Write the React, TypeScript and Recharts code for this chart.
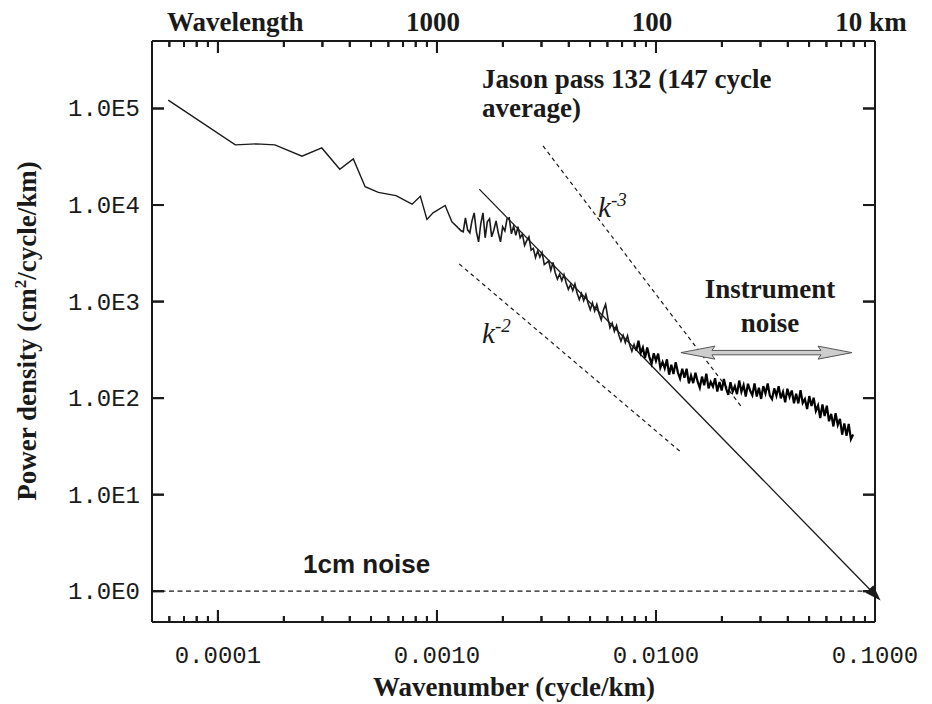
import React from "react"
import { ComposedChart, Line, Scatter, XAxis, YAxis, ReferenceLine } from "recharts"

const W = 932
const H = 704
const PLOT_TOP = 41
const PLOT_RIGHT = 875
const ink = "#1a1a1a"

// low wavenumber part of the spectrum (cycle/km, cm^2/cycle/km)
const lowK = [5.93e-5, 1.2e-4, 1.5e-4, 1.82e-4, 2.42e-4, 2.98e-4, 3.6e-4, 4.15e-4, 4.7e-4, 5.4e-4, 6.5e-4, 7.7e-4, 8.4e-4, 9.0e-4, 9.6e-4, 1.09e-3, 1.17e-3, 1.25e-3]
const lowP = [122000, 42000, 43000, 42000, 32000, 39000, 23500, 30000, 15500, 13500, 12500, 10200, 12300, 7100, 8300, 9900, 6700, 5800]

// mesoscale cascade, follows the fitted slope
const cascadeK = [
  0.001288, 0.001318, 0.001349, 0.00138, 0.001413, 0.001445, 0.001479, 0.001514, 0.001549, 0.001585,
  0.001622, 0.00166, 0.001698, 0.001738, 0.001778, 0.00182, 0.001862, 0.001905, 0.00195, 0.001995,
  0.002042, 0.002089, 0.002138, 0.002188, 0.002239, 0.002291, 0.002344, 0.002399, 0.002455, 0.002512,
  0.00257, 0.00263, 0.002692, 0.002754, 0.002818, 0.002884, 0.002951, 0.00302, 0.00309, 0.003162,
  0.003236, 0.003311, 0.003388, 0.003467, 0.003548, 0.003631, 0.003715, 0.003802, 0.00389, 0.003981,
  0.004074, 0.004169, 0.004266, 0.004365, 0.004467, 0.004571, 0.004677, 0.004786, 0.004898, 0.005012,
  0.005129, 0.005248, 0.00537, 0.005495, 0.005623, 0.005754, 0.005888, 0.006026, 0.006166, 0.00631,
  0.006457, 0.006607, 0.006761, 0.006918, 0.007079, 0.007244, 0.007413, 0.007586, 0.007762, 0.007943,
  0.008128,
]
const cascadeP = [
  5410, 5280, 7370, 5540, 5160, 6860, 8300, 5280, 4160, 6390,
  8300, 4580, 6700, 7200, 4690, 5540, 6860, 5160, 4160, 5950,
  5410, 7200, 7370, 5030, 6040, 4850, 5960, 4570, 4990, 3820,
  4270, 4680, 3420, 3560, 2860, 3350, 2890, 3240, 2420, 2520,
  2630, 2110, 2540, 1990, 1710, 1920, 1650, 1900, 1560, 1340,
  1500, 1300, 1520, 1220, 1050, 1210, 1020, 1190, 958, 825,
  970, 798, 936, 752, 647, 817, 936, 683, 535, 599,
  492, 565, 454, 390, 448, 377, 443, 355, 306, 359,
  310,
]

// instrument noise plateau
const noiseK = [
  0.008318, 0.008511, 0.00871, 0.008913, 0.00912, 0.009333, 0.00955, 0.009772, 0.01,
  0.01023, 0.01047, 0.01072, 0.01096, 0.01122, 0.01148, 0.01175, 0.01202, 0.0123, 0.01259,
  0.01288, 0.01318, 0.01349, 0.0138, 0.01413, 0.01445, 0.01479, 0.01514, 0.01549, 0.01585,
  0.01622, 0.0166, 0.01698, 0.01738, 0.01778, 0.0182, 0.01862, 0.01905, 0.0195, 0.01995,
  0.02042, 0.02089, 0.02138, 0.02188, 0.02239, 0.02291, 0.02344, 0.02399, 0.02455, 0.02512,
  0.0257, 0.0263, 0.02692, 0.02754, 0.02818, 0.02884, 0.02951, 0.0302, 0.0309, 0.03162,
  0.03236, 0.03311, 0.03388, 0.03467, 0.03548, 0.03631, 0.03715, 0.03802, 0.0389, 0.03981,
  0.04074, 0.04169, 0.04266, 0.04365, 0.04467, 0.04571, 0.04677, 0.04786, 0.04898, 0.05012,
  0.05129, 0.05248, 0.0537, 0.05495, 0.05623, 0.05754, 0.05888, 0.06026, 0.06166, 0.0631,
  0.06457, 0.06607, 0.06761, 0.06918, 0.07079, 0.07244, 0.07413, 0.07586, 0.07762, 0.07943,
]
const noiseP = [
  394, 293, 334, 260, 334, 266, 227, 291, 243,
  289, 206, 237, 204, 252, 175, 222, 178, 236, 185,
  160, 202, 163, 202, 142, 171, 143, 183, 149, 128,
  167, 136, 179, 126, 147, 132, 161, 117, 147, 120,
  158, 126, 108, 146, 117, 133, 110, 152, 116, 136,
  104, 141, 119, 107, 142, 104, 128, 98.1, 133, 112,
  142, 106, 97.7, 126, 106, 133, 99.3, 116, 90.7, 125,
  103, 120, 88.6, 111, 88.2, 121, 89.0, 97.9, 77.2, 105,
  82.9, 101, 73.6, 83.9, 62.3, 85.9, 65.2, 83.5, 57.6, 68.7,
  50.9, 69.7, 52.6, 61.0, 41.8, 54.6, 40.8, 54.0, 37.6, 42.0,
]

// reference slopes and fit
const fitK = [0.00156, 0.1]
const fitP = [14600, 0.92]
const k3K = [0.00305, 0.0247]
const k3P = [40900, 80]
const k2K = [0.001265, 0.0129]
const k2P = [2450, 28]
const oneCmNoise = 1
const instrK = [0.013, 0.0785]
const instrP = 296

// axes
const xDomain = [5e-5, 0.1]
const yDomain = [0.48, 5e5]
const xTicks = [
  6e-5, 7e-5, 8e-5, 9e-5,
  1e-4, 2e-4, 3e-4, 4e-4, 5e-4, 6e-4, 7e-4, 8e-4, 9e-4,
  1e-3, 2e-3, 3e-3, 4e-3, 5e-3, 6e-3, 7e-3, 8e-3, 9e-3,
  1e-2, 2e-2, 3e-2, 4e-2, 5e-2, 6e-2, 7e-2, 8e-2, 9e-2,
  0.1,
]
const xMajor = [1e-4, 1e-3, 1e-2, 0.1]
const bottomLabels = ["0.0001", "0.0010", "0.0100", "0.1000"]
const topLabels = ["", "1000", "100", "10 km"]
const yTicks = [1, 10, 100, 1000, 10000, 100000]
const yLabels = ["1.0E0", "1.0E1", "1.0E2", "1.0E3", "1.0E4", "1.0E5"]

const zip = (ks: number[], ps: number[]) => ks.map((k, i) => ({ k, p: ps[i] }))
const lowPart = zip(lowK, lowP)
const cascadePart = [lowPart[lowPart.length - 1], ...zip(cascadeK, cascadeP)]
const noisePart = [cascadePart[cascadePart.length - 1], ...zip(noiseK, noiseP)]
const fitLine = zip(fitK, fitP)
const k3Line = zip(k3K, k3P)
const k2Line = zip(k2K, k2P)

const majorIndex = (v: number) => xMajor.findIndex((m) => Math.abs(v / m - 1) < 1e-6)

// inward tick marks on the four frame edges, placed through the axis scales
const tickMarks = [
  ...xTicks.flatMap((t) => [
    { k: t, p: yDomain[0], edge: "bottom" },
    { k: t, p: yDomain[1], edge: "top" },
  ]),
  ...yTicks.flatMap((t) => [
    { k: xDomain[0], p: t, edge: "left" },
    { k: xDomain[1], p: t, edge: "right" },
  ]),
]

const mono: React.CSSProperties = { fontFamily: "'Liberation Mono', monospace", fontSize: 24, fill: ink }
const serifBold: React.CSSProperties = { fontFamily: "'Liberation Serif', serif", fontWeight: 700, fontSize: 27, fill: ink }
const serifItalic: React.CSSProperties = { fontFamily: "'Liberation Serif', serif", fontStyle: "italic", fontSize: 29, fill: ink }

const TickMark = (props: any) => {
  const { cx, cy, payload } = props
  const edge = payload.edge
  if (edge === "bottom" || edge === "top") {
    const len = majorIndex(payload.k) >= 0 ? 12 : 6
    const y0 = edge === "bottom" ? cy - len : cy
    return <rect x={cx - 1} y={y0} width={2} height={len} fill={ink} />
  }
  const x0 = edge === "left" ? cx : cx - 12
  return <rect x={x0} y={cy - 1} width={12} height={2} fill={ink} />
}

const BottomTick = (props: any) => {
  const { x, y, payload } = props
  const i = majorIndex(payload.value)
  const len = i >= 0 ? 12 : 6
  return (
    <g>
      <rect x={x - 1} y={y - len} width={2} height={len} fill={ink} />
      <rect x={x - 1} y={PLOT_TOP} width={2} height={len} fill={ink} />
      {i >= 0 && (
        <text x={x} y={y + 41} textAnchor="middle" style={mono}>
          {bottomLabels[i]}
        </text>
      )}
      {i > 0 && (
        <text x={x - 4} y={PLOT_TOP - 10} textAnchor="middle" style={serifBold}>
          {topLabels[i]}
        </text>
      )}
    </g>
  )
}

const LeftTick = (props: any) => {
  const { x, y, payload } = props
  const i = yTicks.indexOf(payload.value)
  return (
    <g>
      <rect x={x} y={y - 1} width={12} height={2} fill={ink} />
      <rect x={PLOT_RIGHT - 12} y={y - 1} width={12} height={2} fill={ink} />
      <text x={x - 12} y={y + 8} textAnchor="end" style={mono}>
        {yLabels[i]}
      </text>
    </g>
  )
}

const ArrowTip = (props: any) => {
  const { cx, cy, index, points } = props
  if (index !== 1) return <g key={`tip-${index}`} />
  let ux = 0.697
  let uy = 0.717
  if (points && points.length > 1) {
    const dx = points[1].x - points[0].x
    const dy = points[1].y - points[0].y
    const L = Math.hypot(dx, dy)
    ux = dx / L
    uy = dy / L
  }
  const tx = cx + ux * 8
  const ty = cy + uy * 8
  const bx = cx - ux * 8
  const by = cy - uy * 8
  const px = -uy * 5.5
  const py = ux * 5.5
  return <path key="tip" d={`M${tx},${ty} L${bx + px},${by + py} L${bx - px},${by - py} Z`} fill={ink} />
}

const DoubleArrow = (p: any) => {
  const { x1, y1, x2 } = p
  const y = y1
  const hl = 34
  const hw = 6.5
  const sw = 2.2
  const d = `M${x1},${y} L${x1 + hl},${y - hw} L${x1 + hl - 3},${y - sw} L${x2 - hl + 3},${y - sw} L${x2 - hl},${y - hw} L${x2},${y} L${x2 - hl},${y + hw} L${x2 - hl + 3},${y + sw} L${x1 + hl - 3},${y + sw} L${x1 + hl},${y + hw} Z`
  return <path d={d} fill="#cdcdcd" stroke="#555" strokeWidth={1} />
}

export default function App() {
  const axisLine = { stroke: ink, strokeWidth: 2 }
  return (
    <div style={{ position: "absolute", left: 0, top: 0, width: W, height: H, background: "#fff" }}>
      <ComposedChart width={W} height={H} margin={{ top: 0, right: 0, bottom: 0, left: 0 }}>
        <XAxis xAxisId="t" orientation="top" type="number" scale="log" domain={xDomain}
          height={PLOT_TOP} tick={false} tickLine={false} axisLine={axisLine} allowDataOverflow />
        <YAxis yAxisId="r" orientation="right" type="number" scale="log" domain={yDomain}
          width={W - PLOT_RIGHT} tick={false} tickLine={false} axisLine={axisLine} allowDataOverflow />
        <XAxis xAxisId="b" dataKey="k" type="number" scale="log" domain={xDomain} ticks={xTicks} interval={0}
          height={82} tickSize={0} tickMargin={0} tick={BottomTick} tickLine={false} axisLine={axisLine} />
        <YAxis yAxisId="l" dataKey="p" type="number" scale="log" domain={yDomain} ticks={yTicks} interval={0}
          width={152} tickSize={0} tickMargin={0} tick={LeftTick} tickLine={false} axisLine={axisLine} />

        <ReferenceLine xAxisId="b" yAxisId="l" y={oneCmNoise} stroke={ink} strokeWidth={1.2} strokeDasharray="5 3.5" />
        <Scatter xAxisId="b" yAxisId="l" data={tickMarks} dataKey="p" shape={TickMark} isAnimationActive={false} />
        <Line xAxisId="b" yAxisId="l" data={k3Line} dataKey="p" stroke={ink} strokeWidth={1.2} strokeDasharray="4 3.5"
          dot={false} activeDot={false} isAnimationActive={false} />
        <Line xAxisId="b" yAxisId="l" data={k2Line} dataKey="p" stroke={ink} strokeWidth={1.2} strokeDasharray="4 3.5"
          dot={false} activeDot={false} isAnimationActive={false} />
        <Line xAxisId="b" yAxisId="l" data={fitLine} dataKey="p" stroke={ink} strokeWidth={1.3}
          dot={ArrowTip} activeDot={false} isAnimationActive={false} />
        <Line xAxisId="b" yAxisId="l" data={lowPart} dataKey="p" stroke={ink} strokeWidth={1.4}
          dot={false} activeDot={false} isAnimationActive={false} />
        <Line xAxisId="b" yAxisId="l" data={cascadePart} dataKey="p" stroke={ink} strokeWidth={1.6}
          dot={false} activeDot={false} isAnimationActive={false} />
        <Line xAxisId="b" yAxisId="l" data={noisePart} dataKey="p" stroke="#000" strokeWidth={2.2}
          dot={false} activeDot={false} isAnimationActive={false} />
        <ReferenceLine xAxisId="b" yAxisId="l" segment={[{ x: instrK[0], y: instrP }, { x: instrK[1], y: instrP }]}
          shape={DoubleArrow} />
      </ComposedChart>

      <svg width={W} height={H} style={{ position: "absolute", left: 0, top: 0, pointerEvents: "none" }}>
        <text x={167} y={31} style={serifBold}>Wavelength</text>
        <text x={514} y={696} textAnchor="middle" style={serifBold}>Wavenumber (cycle/km)</text>
        <text x={36} y={331} textAnchor="middle" transform="rotate(-90 36 331)" style={serifBold}>
          Power density (cm<tspan fontSize={17} dy={-10}>2</tspan><tspan dy={10}>/cycle/km)</tspan>
        </text>
        <text x={482} y={88} style={serifBold}>Jason pass 132 (147 cycle</text>
        <text x={482} y={117} style={serifBold}>average)</text>
        <text x={770} y={298} textAnchor="middle" style={serifBold}>Instrument</text>
        <text x={770} y={332} textAnchor="middle" style={serifBold}>noise</text>
        <text x={598} y={217} style={serifItalic}>
          k<tspan fontSize={19} dy={-11}>-3</tspan>
        </text>
        <text x={482} y={343} style={serifItalic}>
          k<tspan fontSize={19} dy={-11}>-2</tspan>
        </text>
        <text x={303} y={573} style={{ fontFamily: "'Liberation Sans', sans-serif", fontWeight: 700, fontSize: 26, fill: ink }}>
          1cm noise
        </text>
      </svg>
    </div>
  )
}
